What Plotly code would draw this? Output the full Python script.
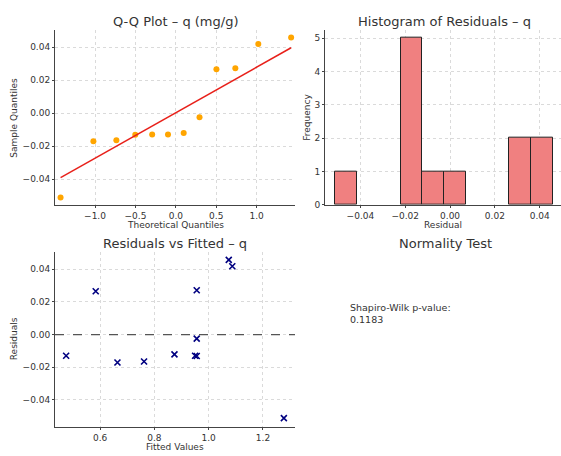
import numpy as np
import plotly.graph_objects as go

# ---- data ----
fitted = [0.475, 0.584, 0.664, 0.762, 0.874, 0.950, 0.956, 0.956, 0.956, 1.074, 1.087, 1.277]
residuals = [-0.0130, 0.0266, -0.0171, -0.0165, -0.0121, -0.0130, 0.0272, -0.0025, -0.0131, 0.0458, 0.0419, -0.0512]
theoretical_q = [-1.426, -1.020, -0.736, -0.502, -0.293, -0.097, 0.097, 0.293, 0.502, 0.736, 1.020, 1.426]
shapiro_p = 0.1183

W, H = 561, 456
FONT = "DejaVu Sans"
TXT = "#333333"

sample_q = sorted(residuals)
res_arr = np.array(residuals)
tq = np.array(theoretical_q)
line_y = res_arr.mean() + res_arr.std() * tq

counts, edges = np.histogram(res_arr, bins=10)
centers = (edges[:-1] + edges[1:]) / 2
bw = edges[1] - edges[0]
keep = counts > 0

def px_x(a, b):
    return [a / W, b / W]

def px_y(top, bottom):
    return [1 - bottom / H, 1 - top / H]

fig = go.Figure()

fig.add_trace(go.Scatter(x=theoretical_q, y=sample_q, mode="markers",
                         marker=dict(color="#FFA500", size=6), xaxis="x", yaxis="y", showlegend=False))
fig.add_trace(go.Scatter(x=[tq[0], tq[-1]], y=[line_y[0], line_y[-1]], mode="lines",
                         line=dict(color="#E8201A", width=1.5), xaxis="x", yaxis="y", showlegend=False))

fig.add_trace(go.Bar(x=centers[keep], y=counts[keep], width=bw,
                     marker=dict(color="#F08080", line=dict(color="#222222", width=1)),
                     xaxis="x2", yaxis="y2", showlegend=False))

fig.add_trace(go.Scatter(x=fitted, y=residuals, mode="markers",
                         marker=dict(color="#000080", size=6, symbol="x-thin", line=dict(color="#000080", width=1.6)),
                         xaxis="x3", yaxis="y3", showlegend=False))

grid = dict(showgrid=True, gridcolor="#dadada", griddash="dot", gridwidth=0.8, zeroline=False,
            showline=True, linecolor="#444444", linewidth=1,
            ticks="outside", ticklen=2, tickwidth=1, tickcolor="#444444",
            tickfont=dict(family=FONT, size=9, color=TXT))

fig.update_layout(
    width=W, height=H, margin=dict(l=0, r=0, t=0, b=0),
    paper_bgcolor="white", plot_bgcolor="white",
    font=dict(family=FONT, color=TXT),
    xaxis=dict(domain=px_x(55, 295), range=[-1.495, 1.474], tickvals=[-1.0, -0.5, 0.0, 0.5, 1.0], tickformat=".1f", anchor="y", **grid),
    yaxis=dict(domain=px_y(30, 207), range=[-0.0556, 0.0506], tickvals=[-0.04, -0.02, 0.0, 0.02, 0.04], tickformat=".2f", anchor="x", **grid),
    xaxis2=dict(domain=px_x(325, 561), range=[-0.0558, 0.0495], tickvals=[-0.04, -0.02, 0.0, 0.02, 0.04], tickformat=".2f", anchor="y2", **grid),
    yaxis2=dict(domain=px_y(30, 207), range=[0, 5.25], tickvals=[0, 1, 2, 3, 4, 5], anchor="x2", **grid),
    xaxis3=dict(domain=px_x(55, 295), range=[0.434, 1.318], tickvals=[0.6, 0.8, 1.0, 1.2], tickformat=".1f", anchor="y3", **grid),
    yaxis3=dict(domain=px_y(255, 432), range=[-0.0568, 0.0505], tickvals=[-0.04, -0.02, 0.0, 0.02, 0.04], tickformat=".2f", anchor="x3", **grid),
    bargap=0,
)

fig.add_shape(type="line", xref="x3 domain", yref="y3", x0=0, x1=1, y0=0, y1=0,
              line=dict(color="#555555", width=1.3, dash="dash"))

def ann(text, x, y, size, angle=0, xanchor="center", align="center"):
    fig.add_annotation(text=text, x=x / W, y=1 - y / H, xref="paper", yref="paper", showarrow=False,
                       font=dict(family=FONT, size=size, color=TXT), textangle=angle,
                       xanchor=xanchor, yanchor="middle", align=align)

ann("Q-Q Plot – q (mg/g)", 175, 22, 13)
ann("Histogram of Residuals – q", 444, 22, 13)
ann("Residuals vs Fitted – q", 175, 246, 13)
ann("Normality Test", 445, 246, 13)
ann("Theoretical Quantiles", 175, 227, 9)
ann("Residual", 443, 227, 9)
ann("Fitted Values", 175, 451.5, 9)
ann("Sample Quantiles", 14, 119, 9, angle=-90)
ann("Frequency", 307, 119, 9, angle=-90)
ann("Residuals", 14, 343, 9, angle=-90)
ann(f"Shapiro-Wilk p-value:<br>{shapiro_p:.4f}", 348, 317, 9.5, xanchor="left", align="left")

fig.write_html("out.html")
